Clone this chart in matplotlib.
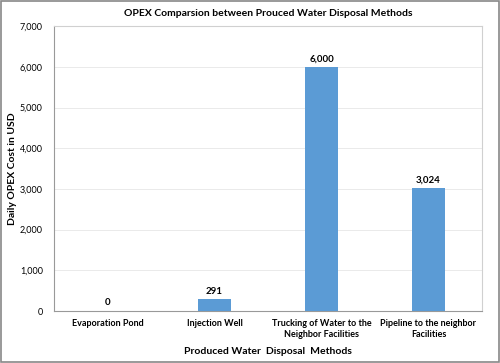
import matplotlib.pyplot as plt
from matplotlib.ticker import FuncFormatter

plt.rcParams['font.family'] = ['Lato', 'DejaVu Sans']

methods = ["Evaporation Pond", "Injection Well",
           "Trucking of Water to the\nNeighbor Facilities",
           "Pipeline to the neighbor\nFacilities"]
opex = [0, 291, 6000, 3024]
yticks = [0, 1000, 2000, 3000, 4000, 5000, 6000, 7000]

fig = plt.figure(figsize=(5, 3.63), dpi=100)
ax = fig.add_axes([0.108, 0.143, 0.856, 0.785])

x = range(len(methods))
bars = ax.bar(x, opex, width=0.31, color="#5B9BD5", zorder=3)
for b, v in zip(bars, opex):
    ax.text(b.get_x() + b.get_width() / 2, v + 90, f"{v:,}",
            ha="center", va="bottom", fontsize=7, fontweight="bold")

ax.set_xlim(-0.5, len(methods) - 0.5)
ax.set_ylim(0, 7000)
ax.set_yticks(yticks)
ax.yaxis.set_major_formatter(FuncFormatter(lambda v, p: f"{int(v):,}"))
ax.set_xticks(list(x))
ax.set_xticklabels(methods, fontsize=6.5, fontweight="bold")
ax.tick_params(axis="y", labelsize=6.5, length=0, pad=8)
ax.tick_params(axis="x", length=0, pad=6)
ax.grid(axis="y", color="#e6e6e6", linewidth=0.6, zorder=0)
for s in ax.spines.values():
    s.set_color("#d0d0d0")
    s.set_linewidth(0.8)
ax.spines["left"].set_color("#999999")
ax.spines["bottom"].set_color("#999999")

ax.set_ylabel("Daily OPEX Cost in USD", fontsize=7.5, fontweight="bold", labelpad=2)
ax.set_xlabel("Produced Water  Disposal  Methods", fontsize=7.5, fontweight="bold", labelpad=6)
ax.set_title("OPEX Comparsion between Prouced Water Disposal Methods",
             fontsize=7.5, fontweight="bold", pad=7)

fig.patches.append(plt.Rectangle((0.002, 0.003), 0.995, 0.993, transform=fig.transFigure,
                                 fill=False, edgecolor="#888888", linewidth=1.2))

fig.savefig("out.png", dpi=100)
